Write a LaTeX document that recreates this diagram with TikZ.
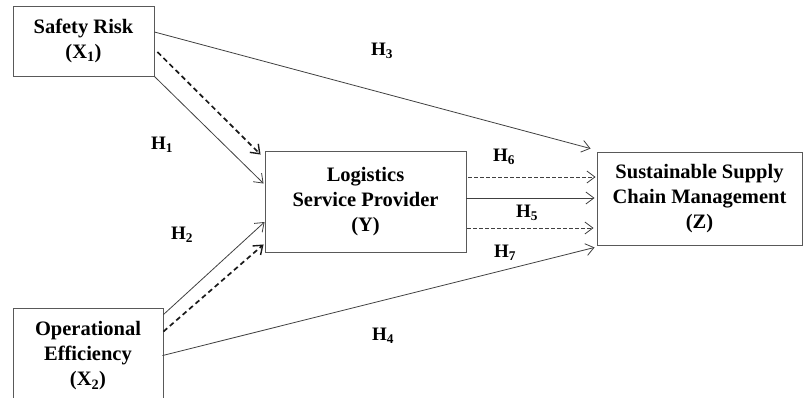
\documentclass[tikz,border=0pt]{standalone}
\usepackage{fontspec}
\setmainfont{Liberation Serif}
\usetikzlibrary{arrows.meta}
\tikzset{
  box/.style={draw=black!65, line width=0.9pt, align=center, inner sep=0pt,
    font=\bfseries\fontsize{20.5}{25}\selectfont},
  hlab/.style={font=\bfseries\fontsize{19}{22}\selectfont, inner sep=0pt},
  conn/.style={draw=black!75, line width=0.8pt, -{Straight Barb[length=8pt,width=12pt,line width=0.8pt]}},
  thindash/.style={conn, dash pattern=on 3.5pt off 2.5pt},
  thickdash/.style={conn, draw=black!90, line width=1.7pt, dash pattern=on 5pt off 3.5pt,
    -{Straight Barb[length=8pt,width=12pt,line width=1.4pt]}}
}
\newcommand{\sbs}[1]{\textsubscript{#1}}
\begin{document}
\begin{tikzpicture}[x=1pt,y=-1pt]
\useasboundingbox (0,0) rectangle (803,397);
\clip (0,0) rectangle (803,397);
% boxes
\node[box, minimum width=141pt, minimum height=70pt] (X1) at (83.5,41) {Safety Risk\\(X\sbs{1})};
\node[box, minimum width=201pt, minimum height=101pt] (Y) at (365.5,201.5) {Logistics\\Service Provider\\(Y)};
\node[box, minimum width=205pt, minimum height=93pt] (Z) at (699.5,198.5) {Sustainable Supply\\Chain Management\\(Z)};
\node[box, minimum width=150pt, minimum height=96pt] (X2) at (88,356) {Operational\\Efficiency\\(X\sbs{2})};
% labels
\node[hlab] (h1) at (162,145) {H\sbs{1}};
\node[hlab] (h2) at (182,235) {H\sbs{2}};
\node[hlab] (h3) at (382,51) {H\sbs{3}};
\node[hlab] (h4) at (383,336) {H\sbs{4}};
\node[hlab] (h5) at (527,213) {H\sbs{5}};
\node[hlab] (h6) at (504,157) {H\sbs{6}};
\node[hlab] (h7) at (505,253) {H\sbs{7}};
% connectors
\draw[conn] ([yshift=9pt]X1.east) -- ([xshift=-6pt,yshift=3pt]Z.north west);
\draw[conn] (X1.south east) -- ([xshift=-1pt,yshift=18pt]Y.west);
\draw[thickdash] ([xshift=3pt,yshift=-11pt]X1.east) -- ([xshift=-4pt,yshift=-4pt]Y.north west);
\draw[conn] ([yshift=-7pt]X2.north east) -- ([yshift=-20.5pt]Y.west);
\draw[thickdash] ([yshift=-24pt]X2.north east) -- ([xshift=-1pt,yshift=8pt]Y.south west);
\draw[conn] ([xshift=-1pt,yshift=-48pt]X2.north east) -- ([xshift=-2pt,yshift=-2pt]Z.south west);
\draw[thindash] ([xshift=2pt,yshift=24.5pt]Y.east) -- ([xshift=-1pt,yshift=21.5pt]Z.west);
\draw[conn] ([yshift=3.5pt]Y.east) -- ([xshift=-2pt,yshift=0.5pt]Z.west);
\draw[thindash] ([xshift=1pt,yshift=-26.5pt]Y.east) -- ([xshift=-3pt,yshift=-29.5pt]Z.west);
\end{tikzpicture}
\end{document}
